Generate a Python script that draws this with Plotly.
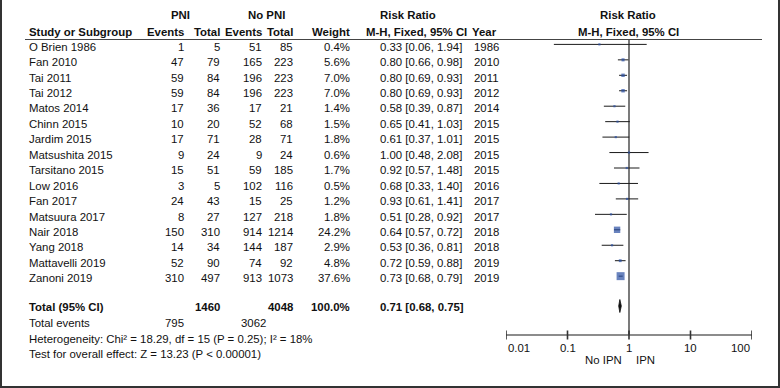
import numpy as np
import plotly.graph_objects as go

studies = ["O Brien 1986", "Fan 2010", "Tai 2011", "Tai 2012", "Matos 2014", "Chinn 2015",
           "Jardim 2015", "Matsushita 2015", "Tarsitano 2015", "Low 2016", "Fan 2017",
           "Matsuura 2017", "Nair 2018", "Yang 2018", "Mattavelli 2019", "Zanoni 2019"]
pni_events = [1, 47, 59, 59, 17, 10, 17, 9, 15, 3, 24, 8, 150, 14, 52, 310]
pni_total = [5, 79, 84, 84, 36, 20, 71, 24, 51, 5, 43, 27, 310, 34, 90, 497]
nopni_events = [51, 165, 196, 196, 17, 52, 28, 9, 59, 102, 15, 127, 914, 144, 74, 913]
nopni_total = [85, 223, 223, 223, 21, 68, 71, 24, 185, 116, 25, 218, 1214, 187, 92, 1073]
weights = [0.4, 5.6, 7.0, 7.0, 1.4, 1.5, 1.8, 0.6, 1.7, 0.5, 1.2, 1.8, 24.2, 2.9, 4.8, 37.6]
rr = [0.33, 0.80, 0.80, 0.80, 0.58, 0.65, 0.61, 1.00, 0.92, 0.68, 0.93, 0.51, 0.64, 0.53, 0.72, 0.73]
ci_lo = [0.06, 0.66, 0.69, 0.69, 0.39, 0.41, 0.37, 0.48, 0.57, 0.33, 0.61, 0.28, 0.57, 0.36, 0.59, 0.68]
ci_hi = [1.94, 0.98, 0.93, 0.93, 0.87, 1.03, 1.01, 2.08, 1.48, 1.40, 1.41, 0.92, 0.72, 0.81, 0.88, 0.79]
years = [1986, 2010, 2011, 2012, 2014, 2015, 2015, 2015, 2015, 2016, 2017, 2017, 2018, 2018, 2019, 2019]

total_pni = 1460
total_nopni = 4048
total_weight = 100.0
total_rr = 0.71
total_lo = 0.68
total_hi = 0.75
events_pni = 795
events_nopni = 3062
heterogeneity = "Heterogeneity: Chi² = 18.29, df = 15 (P = 0.25); I² = 18%"
overall = "Test for overall effect: Z = 13.23 (P < 0.00001)"
tick_vals = [0.01, 0.1, 1, 10, 100]
tick_labels = ["0.01", "0.1", "1", "10", "100"]
favours_left = "No IPN"
favours_right = "IPN"

W, H = 780, 388
FONT = "Liberation Sans, Arial, sans-serif"
FS = 11.4
row0, step = 46.6, 15.45
row_y = [row0 + step * i for i in range(len(studies))]
total_y = 307.0
ev_y, het_y, test_y = 323.0, 338.6, 353.6
axis_y = 335.0

fig = go.Figure()
ann = []


def txt(x, y, s, anchor="left", bold=False, xref="paper"):
    ann.append(dict(x=(x / W) if xref == "paper" else x, y=y, xref=xref, yref="y",
                    text=("<b>%s</b>" % s) if bold else s, showarrow=False,
                    xanchor=anchor, yanchor="middle",
                    font=dict(family=FONT, size=FS, color="#111")))


# headers
txt(180, 14.5, "PNI", "center", True)
txt(266, 14.5, "No PNI", "center", True)
txt(378, 14.5, "Risk Ratio", "left", True)
txt(628, 14.5, "Risk Ratio", "center", True)
hy = 32
txt(27, hy, "Study or Subgroup", "left", True)
txt(186, hy, "Events", "right", True)
txt(222, hy, "Total", "right", True)
txt(264, hy, "Events", "right", True)
txt(295, hy, "Total", "right", True)
txt(352, hy, "Weight", "right", True)
txt(364, hy, "M-H, Fixed, 95% CI", "left", True)
txt(470, hy, "Year", "left", True)
txt(628, hy, "M-H, Fixed, 95% CI", "center", True)

for i, s in enumerate(studies):
    y = row_y[i]
    txt(27, y, s)
    txt(186, y, str(pni_events[i]), "right")
    txt(222, y, str(pni_total[i]), "right")
    txt(264, y, str(nopni_events[i]), "right")
    txt(295, y, str(nopni_total[i]), "right")
    txt(352, y, "%.1f%%" % weights[i], "right")
    txt(378, y, "%.2f [%.2f, %.2f]" % (rr[i], ci_lo[i], ci_hi[i]))
    txt(472, y, str(years[i]))

txt(27, total_y, "Total (95% CI)", bold=True)
txt(222, total_y, str(total_pni), "right", True)
txt(295, total_y, str(total_nopni), "right", True)
txt(352, total_y, "%.1f%%" % total_weight, "right", True)
txt(378, total_y, "%.2f [%.2f, %.2f]" % (total_rr, total_lo, total_hi), bold=True)
txt(27, ev_y, "Total events")
txt(186, ev_y, str(events_pni), "right")
txt(268, ev_y, str(events_nopni), "right")
txt(27, het_y, heterogeneity)
txt(27, test_y, overall)

# tick labels and favours labels
for i, (v, lab) in enumerate(zip(tick_vals, tick_labels)):
    anchor = "left" if i == 0 else ("right" if i == len(tick_vals) - 1 else "center")
    txt(np.log10(v), 347.5, lab, anchor, xref="x")
txt(np.log10(1) - 0.08, 359.5, favours_left, "right", xref="x")
txt(np.log10(1) + 0.08, 359.5, favours_right, "left", xref="x")

# vertical line of no effect
fig.add_trace(go.Scatter(x=[1, 1], y=[39.5, axis_y], mode="lines",
                         line=dict(color="#222", width=1.2), hoverinfo="skip"))
# axis line
fig.add_trace(go.Scatter(x=[tick_vals[0], tick_vals[-1]], y=[axis_y, axis_y], mode="lines",
                         line=dict(color="#666", width=1.6), hoverinfo="skip"))
tx, ty = [], []
for v in tick_vals:
    tx += [v, v, None]
    ty += [axis_y - 4.5, axis_y + 4.5, None]
fig.add_trace(go.Scatter(x=tx, y=ty, mode="lines", line=dict(color="#333", width=1.6),
                         hoverinfo="skip"))

# CI lines
cx, cy = [], []
for i in range(len(studies)):
    cx += [ci_lo[i], ci_hi[i], None]
    cy += [row_y[i] - 2.2, row_y[i] - 2.2, None]
fig.add_trace(go.Scatter(x=cx, y=cy, mode="lines", line=dict(color="#1a1a1a", width=1),
                         hoverinfo="skip"))
# squares
fig.add_trace(go.Scatter(x=rr, y=[y - 2.2 for y in row_y], mode="markers",
                         marker=dict(symbol="square", color="#2a4ea3",
                                     size=[max(2.2, 1.3 * np.sqrt(w)) for w in weights],
                                     line=dict(width=0)),
                         hoverinfo="skip"))
# diamond
dy = total_y - 1
fig.add_trace(go.Scatter(x=[total_lo, total_rr, total_hi, total_rr, total_lo],
                         y=[dy, dy - 6.5, dy, dy + 6.5, dy], mode="lines", fill="toself",
                         fillcolor="#111", line=dict(color="#111", width=0.8),
                         hoverinfo="skip"))

shapes = [
    dict(type="line", xref="paper", yref="y", x0=25 / W, x1=762 / W, y0=39.5, y1=39.5,
         line=dict(color="#444", width=1.2)),
    dict(type="line", xref="paper", yref="paper", x0=1 / W, x1=1 / W, y0=0, y1=1,
         line=dict(color="#333", width=2)),
    dict(type="line", xref="paper", yref="paper", x0=779 / W, x1=779 / W, y0=0, y1=1,
         line=dict(color="#333", width=2)),
    dict(type="line", xref="paper", yref="paper", x0=0, x1=1, y0=1 / H, y1=1 / H,
         line=dict(color="#333", width=2)),
]

fig.update_layout(
    width=W, height=H, margin=dict(l=0, r=0, t=0, b=0),
    paper_bgcolor="white", plot_bgcolor="white", showlegend=False,
    xaxis=dict(type="log", range=[-2, 2], domain=[506 / W, 752 / W], visible=False,
               fixedrange=True),
    yaxis=dict(range=[H, 0], domain=[0, 1], visible=False, fixedrange=True),
    annotations=ann, shapes=shapes,
)

fig.write_html("out.html", config={"displayModeBar": False, "staticPlot": True},
               post_script="document.body.style.margin='0';")
